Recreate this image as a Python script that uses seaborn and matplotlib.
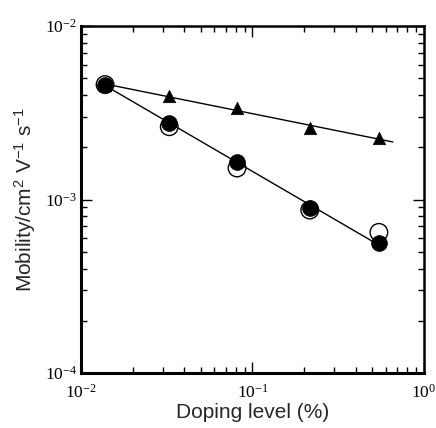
import numpy as np
import pandas as pd
import matplotlib
matplotlib.use("Agg")
import matplotlib.pyplot as plt
import seaborn as sns
from matplotlib.ticker import LogLocator, LogFormatterMathtext, NullFormatter

# Doping level (%) and hole mobility (cm^2 V^-1 s^-1)
doping = [0.0138, 0.0327, 0.0813, 0.216, 0.547]
mob_filled = [0.00457, 0.00277, 0.00165, 0.000898, 0.00056]
mob_open = [0.00460, 0.00263, 0.00152, 0.00087, 0.000647]
mob_triangle = [0.00457, 0.00395, 0.00336, 0.00259, 0.00225]

# x-ranges over which the power-law fits are drawn
fit_range_circle = [0.0138, 0.55]
fit_range_triangle = [0.0138, 0.66]

sns.set_style("ticks")
plt.rcParams["font.family"] = ["Liberation Sans", "DejaVu Sans"]

fig = plt.figure(figsize=(4.36, 4.28), dpi=100)
ax = fig.add_axes([0.186, 0.1285, 0.786, 0.8105])


def power_fit(x, y, xr):
    k, b = np.polyfit(np.log10(x), np.log10(y), 1)
    xs = np.array(xr)
    return pd.DataFrame({"x": xs, "y": 10 ** (k * np.log10(xs) + b)})


fit_c = power_fit(doping, mob_filled, fit_range_circle)
fit_t = power_fit(doping, mob_triangle, fit_range_triangle)
sns.lineplot(data=fit_c, x="x", y="y", ax=ax, color="black", lw=1.0, zorder=2)
sns.lineplot(data=fit_t, x="x", y="y", ax=ax, color="black", lw=1.0, zorder=2)

df = pd.DataFrame({"x": doping, "open": mob_open, "filled": mob_filled,
                   "tri": mob_triangle})
sns.scatterplot(data=df, x="x", y="tri", ax=ax, marker="^", s=80,
                color="black", edgecolor="black", linewidth=0.5, zorder=3)
sns.scatterplot(data=df, x="x", y="open", ax=ax, marker="o", s=160,
                facecolor="none", edgecolor="black", linewidth=1.0, zorder=4)
sns.scatterplot(data=df, x="x", y="filled", ax=ax, marker="o", s=130,
                color="black", edgecolor="black", linewidth=0.5, zorder=5)

ax.set_xscale("log")
ax.set_yscale("log")
ax.set_xlim(1e-2, 1e0)
ax.set_ylim(1e-4, 1e-2)

for axis in (ax.xaxis, ax.yaxis):
    axis.set_major_locator(LogLocator(base=10, numticks=10))
    axis.set_minor_locator(LogLocator(base=10, subs=np.arange(2, 10), numticks=20))
    axis.set_major_formatter(LogFormatterMathtext())
    axis.set_minor_formatter(NullFormatter())

ax.tick_params(which="both", direction="in", top=True, right=True,
               colors="black", width=1.0)
ax.tick_params(which="major", length=8)
ax.tick_params(which="minor", length=4.5)
ax.tick_params(axis="x", which="major", pad=8)
ax.tick_params(axis="y", which="major", pad=3)
for lab in ax.get_xticklabels() + ax.get_yticklabels():
    lab.set_fontfamily("Liberation Serif")
    lab.set_fontsize(12.5)

for side in ("left", "bottom"):
    ax.spines[side].set_linewidth(2.2)
for side in ("top", "right"):
    ax.spines[side].set_linewidth(1.8)
for sp in ax.spines.values():
    sp.set_color("black")

ax.set_xlabel("Doping level (%)", fontsize=15, labelpad=1)
ax.set_ylabel(r"Mobility/cm$\mathdefault{^2}$ V$\mathdefault{^{-1}}$ s$\mathdefault{^{-1}}$",
              fontsize=15, labelpad=5)

fig.savefig("out.png", dpi=100)
